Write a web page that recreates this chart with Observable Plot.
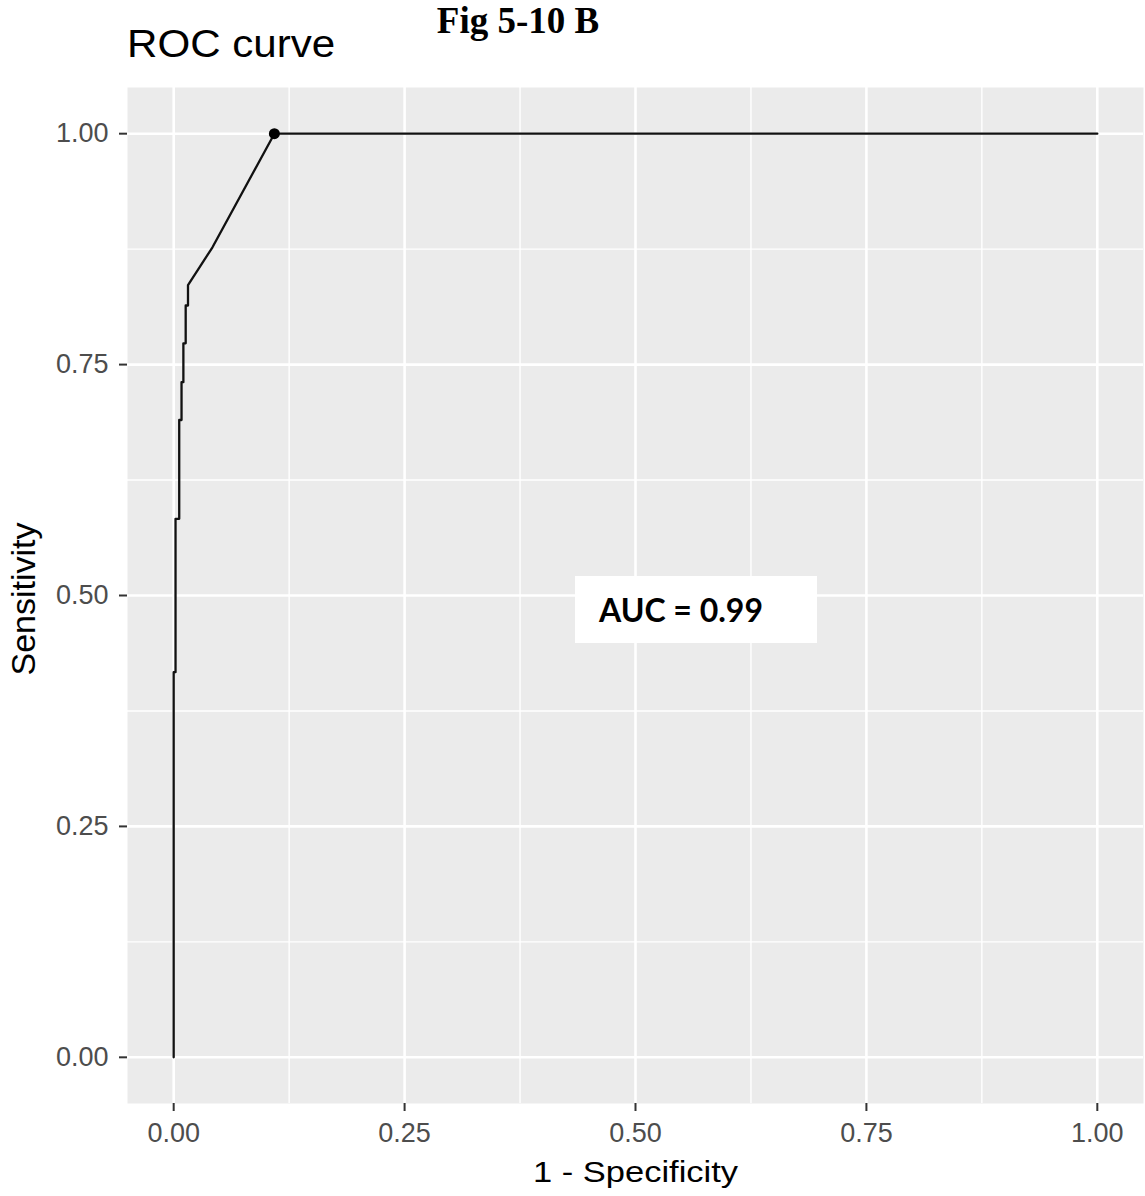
<!DOCTYPE html>
<html>
<head>
<meta charset="utf-8">
<script src="https://cdn.jsdelivr.net/npm/d3@7"></script>
<script src="https://cdn.jsdelivr.net/npm/@observablehq/plot@0.6"></script>
<style>
  body { margin: 0; background: #fff; }
  #wrap { position: relative; width: 1145px; height: 1196px; overflow: hidden; }
  #title { position: absolute; left: 127px; top: 24px; font: 39px/39px "Liberation Sans", Arial, sans-serif; color: #000; transform: scaleX(1.08); transform-origin: left; white-space: nowrap; }
  #fig { position: absolute; left: 518px; top: 2px; font: bold 37px/37px "Liberation Serif", "Times New Roman", serif; color: #000; transform: translateX(-50%); white-space: nowrap; }
  #auc { position: absolute; left: 575px; top: 576px; width: 218px; height: 67px; padding-left: 24px; background: #fff; font: bold 32px/67px Lato, sans-serif; color: #000; white-space: nowrap; }
  #wrap svg { position: absolute; left: 0; top: 0; }
</style>
</head>
<body>
<div id="wrap"></div>
<script>
// ROC curve points (1 - specificity, sensitivity)
const fpr = [0, 0, 0.002, 0.002, 0.006, 0.006, 0.0085, 0.0085, 0.0105, 0.0105, 0.013, 0.013, 0.0155, 0.0155, 0.042, 0.109, 1];
const tpr = [0, 0.417, 0.417, 0.583, 0.583, 0.69, 0.69, 0.731, 0.731, 0.773, 0.773, 0.814, 0.814, 0.836, 0.877, 1, 1];
const bestFpr = [0.109];
const bestTpr = [1];
const majorTicks = [0, 0.25, 0.5, 0.75, 1];
const minorTicks = [0.125, 0.375, 0.625, 0.875];
const aucValue = 0.99;
const titleText = "ROC curve";
const figText = "Fig 5-10 B";
const xLabel = "1 - Specificity";
const yLabel = "Sensitivity";

const curve = fpr.map((x, i) => ({x, y: tpr[i]}));
const best = bestFpr.map((x, i) => ({x, y: bestTpr[i]}));

const chart = Plot.plot({
  width: 1145,
  height: 1196,
  marginLeft: 127,
  marginRight: 2,
  marginTop: 87,
  marginBottom: 93,
  style: { fontFamily: "'Liberation Sans', Arial, sans-serif", background: "transparent" },
  x: { domain: [-0.05, 1.05] },
  y: { domain: [-0.05, 1.05] },
  marks: [
    Plot.frame({ fill: "#EBEBEB", stroke: null }),
    Plot.ruleX(minorTicks, { stroke: "#fff", strokeWidth: 1.4 }),
    Plot.ruleY(minorTicks, { stroke: "#fff", strokeWidth: 1.4 }),
    Plot.ruleX(majorTicks, { stroke: "#fff", strokeWidth: 2.6 }),
    Plot.ruleY(majorTicks, { stroke: "#fff", strokeWidth: 2.6 }),
    Plot.line(curve, { x: "x", y: "y", stroke: "#111", strokeWidth: 2.3 }),
    Plot.dot(best, { x: "x", y: "y", r: 5.5, fill: "#000", stroke: null }),
    Plot.axisX(majorTicks, { tickFormat: d3.format(".2f"), tickSize: 8, tickPadding: 11, fontSize: 27, stroke: "#333", strokeWidth: 2, fill: "#4D4D4D", label: null }),
    Plot.axisY(majorTicks, { tickFormat: d3.format(".2f"), tickSize: 8, tickPadding: 11, fontSize: 27, stroke: "#333", strokeWidth: 2, fill: "#4D4D4D", label: null }),
    Plot.text([xLabel], { text: d => d, frameAnchor: "bottom", dy: 69, fontSize: 30, fill: "#000", lineAnchor: "middle" }),
    Plot.text([yLabel], { text: d => d, frameAnchor: "left", rotate: -90, dx: -103, dy: 80, fontSize: 34, fill: "#000", lineAnchor: "middle" })
  ]
});

const wrap = document.getElementById("wrap");
wrap.appendChild(chart);
d3.select(chart).selectAll("text").each(function () {
  if (this.textContent === xLabel) d3.select(this).attr("textLength", 205).attr("lengthAdjust", "spacingAndGlyphs");
});

const title = document.createElement("div");
title.id = "title"; title.textContent = titleText; wrap.appendChild(title);
const fig = document.createElement("div");
fig.id = "fig"; fig.textContent = figText; wrap.appendChild(fig);
const auc = document.createElement("div");
auc.id = "auc"; auc.textContent = "AUC = " + aucValue.toFixed(2); wrap.appendChild(auc);
</script>
</body>
</html>
